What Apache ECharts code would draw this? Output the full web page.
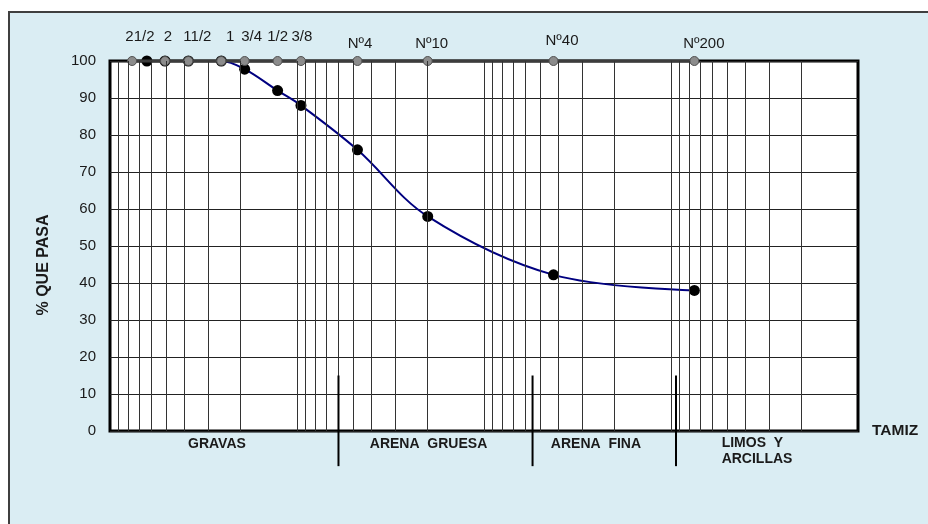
<!DOCTYPE html>
<html>
<head>
<meta charset="utf-8">
<title>Curva granulométrica</title>
<script src="https://cdn.jsdelivr.net/npm/echarts@6/dist/echarts.min.js"></script>
<style>
  html, body { margin: 0; padding: 0; background: #ffffff; overflow: hidden; }
  #frame {
    position: absolute; left: 8px; top: 11px; width: 940px; height: 540px;
    background: #daedf3; border-left: 2px solid #3f3f3f; border-top: 2px solid #3f3f3f;
  }
  #chart { position: absolute; left: 0; top: 0; width: 928px; height: 524px; z-index: 1; }
</style>
</head>
<body>
<div id="frame"></div>
<div id="chart"></div>
<script>
// ---- Data ----------------------------------------------------------------
// Sieve openings (mm) marked along the top of the chart
const frameSieves = [76.2, 50.8, 38.1, 25.4, 19.05, 12.7, 9.525, 4.75, 2.0, 0.425, 0.075];
// Sieve names and the opening (mm) each name refers to
const sieveNames = ['21/2', '2', '11/2', '1', '3/4', '1/2', '3/8', 'Nº4', 'Nº10', 'Nº40', 'Nº200'];
const sieveNameSizes = [63.5, 50.8, 38.1, 25.4, 19.05, 12.7, 9.525, 4.75, 2.0, 0.425, 0.075];
// Grading test: opening (mm) and percentage passing
const testSizes = [63.5, 50.8, 38.1, 25.4, 19.05, 12.7, 9.525, 4.75, 2.0, 0.425, 0.075];
const percentPassing = [100, 100, 100, 100, 97.8, 92, 88, 76, 58, 42.2, 38];
// Soil class boundaries (mm)
const classLimits = [6.0, 0.55, 0.094];
// Soil class names
const classNames = ['GRAVAS', 'ARENA  GRUESA', 'ARENA  FINA', 'LIMOS  Y\nARCILLAS'];
// Y axis ticks
const yTicks = [0, 10, 20, 30, 40, 50, 60, 70, 80, 90, 100];

// ---- Layout --------------------------------------------------------------
const FONT = '"Liberation Sans", Arial, Helvetica, sans-serif';
const TEXT = '#1a1a1a';
// label nudges [dx, dy] for the sieve names, in px
const nameNudge = [[-7, -24], [3, -24], [9, -24], [9, -24], [7, -24], [0, -24], [1, -24],
                   [2.5, -17], [4, -17], [8.5, -20], [9.5, -17]];
// anchor points (mm, %) for the class names and their alignment
const classAnchor = [[26.8, -3.5, 'center'], [1.98, -3.5, 'center'], [0.252, -3.5, 'center'], [0.0536, -5.4, 'left']];
const dividerTop = 15, dividerBottom = -9.5;

// log grid lines: 1..9 x 10^n between 0.01 and 100 mm
const gridValues = [];
for (let n = -2; n <= 1; n++) {
  for (let k = 1; k <= 9; k++) {
    const v = +(k * Math.pow(10, n)).toPrecision(3);
    if (v > 0.01 && v < 100) gridValues.push(v);
  }
}

const series = [];

// vertical grid
series.push({
  type: 'line', data: [], silent: true, z: 1,
  markLine: {
    silent: true, symbol: ['none', 'none'], label: { show: false },
    lineStyle: { color: '#333333', width: 1, type: 'solid' },
    animation: false,
    data: gridValues.map(v => ({ xAxis: v }))
  }
});

// class boundary strokes, running below the axis
classLimits.forEach(v => {
  series.push({
    type: 'line', clip: false, silent: true, symbol: 'none', z: 5,
    lineStyle: { color: '#000000', width: 2 },
    data: [[v, dividerTop], [v, dividerBottom]]
  });
});

// grading curve
series.push({
  type: 'line', z: 3, smooth: 0.35,
  symbol: 'circle', symbolSize: 11,
  lineStyle: { color: '#000080', width: 2 },
  itemStyle: { color: '#000000' },
  data: testSizes.map((s, i) => [s, percentPassing[i]])
});

// sieve markers on the top edge
series.push({
  type: 'line', z: 4, clip: false,
  symbol: 'circle', symbolSize: 9,
  lineStyle: { color: '#3c3c3c', width: 3 },
  itemStyle: { color: '#8c8c8c', borderColor: '#505050', borderWidth: 1 },
  data: frameSieves.map(s => [s, 100])
});

// sieve names
series.push({
  type: 'scatter', z: 6, clip: false, silent: true,
  symbolSize: 1, itemStyle: { color: 'rgba(0,0,0,0)', opacity: 1 },
  data: sieveNames.map((n, i) => ({
    name: n, value: [sieveNameSizes[i], 100],
    label: { offset: nameNudge[i] }
  })),
  label: {
    show: true, position: 'inside', formatter: p => p.name,
    fontFamily: FONT, fontSize: 15, color: TEXT
  }
});

// soil class names
series.push({
  type: 'scatter', z: 6, clip: false, silent: true,
  symbolSize: 1, itemStyle: { color: 'rgba(0,0,0,0)', opacity: 1 },
  data: classNames.map((n, i) => ({
    name: n, value: [classAnchor[i][0], classAnchor[i][1]],
    label: { align: classAnchor[i][2] }
  })),
  label: {
    show: true, position: 'inside', formatter: p => p.name,
    fontFamily: FONT, fontSize: 14, fontWeight: 'bold', color: TEXT, lineHeight: 16
  }
});

const option = {
  animation: false,
  backgroundColor: 'transparent',
  grid: {
    left: 110, right: 70, top: 61, bottom: 93,
    show: true, borderColor: '#000000', borderWidth: 3, backgroundColor: '#ffffff'
  },
  xAxis: {
    type: 'log', logBase: 10, min: 0.01, max: 100, inverse: true,
    axisLine: { show: false }, axisTick: { show: false },
    axisLabel: { show: false }, splitLine: { show: false },
    name: 'TAMIZ', nameLocation: 'start', nameGap: 14,
    nameTextStyle: { fontFamily: FONT, fontSize: 15.5, fontWeight: 'bold', color: TEXT }
  },
  yAxis: {
    type: 'value', min: yTicks[0], max: yTicks[yTicks.length - 1], interval: yTicks[1] - yTicks[0],
    axisLine: { show: false }, axisTick: { show: false },
    splitLine: { lineStyle: { color: '#222222', width: 1 } },
    axisLabel: { fontFamily: FONT, fontSize: 15, color: TEXT, margin: 14 },
    name: '% QUE PASA', nameLocation: 'middle', nameGap: 58,
    nameTextStyle: { fontFamily: FONT, fontSize: 16, fontWeight: 'bold', color: TEXT, padding: [0, 38, 0, 0] }
  },
  series: series
};

const chart = echarts.init(document.getElementById('chart'));
chart.setOption(option);
</script>
</body>
</html>
